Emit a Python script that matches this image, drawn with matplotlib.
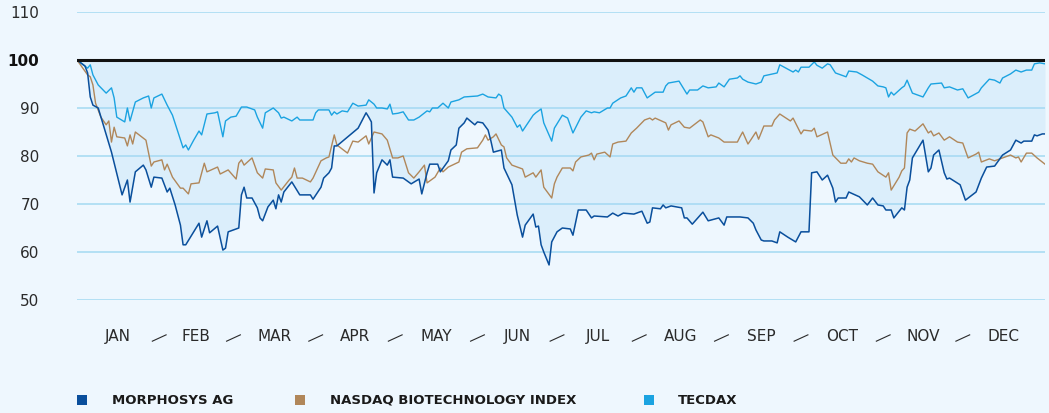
import matplotlib.pyplot as plt
from matplotlib.patches import Rectangle
from matplotlib.transforms import blended_transform_factory
import numpy as np

plt.rcParams['font.family'] = ['DejaVu Sans']

W, H = 1049, 413

# day of year / indexed value (start = 100)
morph_day = [0, 3, 4, 5, 6, 8, 13, 17, 19, 20, 22, 25, 26, 28, 29, 32, 34, 35, 37, 39, 40, 41,
             46, 47, 49, 50, 53, 55, 56, 57, 61, 62, 63, 64, 66, 68, 69, 70, 72, 74, 75, 76, 77,
             78, 81, 84, 88, 89, 92, 93, 95, 96, 97, 98, 106, 109, 110, 111, 112, 113, 115, 117,
             118, 119, 123, 124, 126, 129, 130, 132, 133, 136, 137, 140, 141, 143, 144, 146, 147,
             150, 151, 153, 155, 156, 157, 160, 161, 164, 166, 168, 169, 172, 173, 174, 175, 176,
             178, 179, 181, 183, 186, 187, 189, 192, 194, 195, 200, 202, 204, 206, 210, 213, 215,
             216, 217, 220, 221, 222, 224, 228, 229, 230, 232, 236, 238, 242, 244, 245, 250, 253,
             255, 256, 258, 259, 262, 264, 265, 268, 271, 273, 276, 277, 279, 281, 283, 285, 286,
             287, 290, 291, 295, 298, 300, 302, 304, 305, 307, 308, 311, 312, 313, 314, 315, 319,
             321, 322, 323, 325, 327, 328, 329, 333, 335, 339, 341, 343, 346, 349, 352, 354, 356,
             357, 360, 361, 362, 364, 365]
morph_val = [100, 98.75, 97.3, 92.3, 90.6, 90, 80.8, 71.9, 75, 70.4, 76.7, 78.1, 77.1, 73.5, 75.6,
             75.4, 72.5, 73.3, 69.8, 65.6, 61.5, 61.5, 66, 63.1, 66.5, 64, 65.4, 60.4, 60.8, 64.2,
             65, 71.9, 73.5, 71.25, 71.25, 69.2, 67.1, 66.5, 69.4, 70.8, 69, 71.9, 70.4, 72.5,
             74.6, 71.9, 71.9, 71, 73.5, 75.4, 76.5, 77.5, 82.1, 82.1, 85.8, 89, 88.1, 87.1, 72.3,
             76.5, 79.2, 78.1, 79.2, 75.6, 75.4, 75, 74.2, 75.2, 72.1, 76.5, 78.3, 78.3, 76.7, 79,
             81.25, 82.3, 85.8, 86.9, 87.9, 86.5, 87.1, 86.9, 85.4, 83.3, 80.8, 81.25, 77.5, 74,
             67.7, 63.1, 65.6, 67.9, 65.2, 65.4, 61.5, 60, 57.3, 62.1, 64.2, 65, 64.8, 63.5, 68.75,
             68.75, 67.1, 67.5, 67.3, 68.1, 67.5, 68.1, 67.9, 68.5, 66, 66.25, 69.2, 69, 69.8, 69.2,
             69.6, 69.2, 67.1, 67.1, 65.8, 68.3, 66.5, 67.1, 65.6, 67.3, 67.3, 67.1, 66, 64.6, 62.5,
             62.3, 62.3, 61.9, 64.2, 63.1, 62.1, 64.2, 64.2, 76.5, 76.7, 75, 76, 73.3, 70.4, 71.25,
             71.25, 72.5, 71.5, 69.8, 71.25, 69.8, 69.6, 68.75, 68.75, 67.1, 69.2, 68.75, 73.5, 75,
             79.6, 83.3, 76.7, 77.5, 80.2, 81.25, 76.5, 75.2, 75.4, 74, 70.8, 72.5, 75.4, 77.7,
             77.9, 80.2, 81.25, 83.3, 82.7, 83.1, 83.1, 84.4, 84.2, 84.6, 84.6]

nasdaq_day = [0, 4, 5, 6, 7, 9, 11, 12, 13, 14, 15, 18, 19, 20, 21, 22, 26, 27, 28, 29, 32, 33,
              34, 36, 39, 40, 42, 43, 46, 48, 49, 53, 54, 57, 60, 61, 62, 63, 66, 68, 70, 71, 74,
              75, 77, 80, 81, 82, 83, 85, 88, 89, 92, 94, 95, 97, 98, 102, 104, 106, 109, 110, 112,
              115, 117, 119, 121, 123, 125, 127, 129, 131, 132, 135, 137, 138, 140, 144, 145, 147,
              151, 153, 154, 155, 157, 158, 160, 161, 162, 164, 168, 169, 172, 173, 175, 176, 179,
              180, 181, 183, 186, 187, 188, 190, 193, 194, 195, 196, 199, 201, 202, 204, 207, 209,
              211, 214, 216, 217, 218, 222, 223, 224, 227, 229, 231, 235, 236, 238, 239, 242, 244,
              249, 250, 251, 253, 254, 256, 257, 259, 262, 263, 265, 269, 270, 273, 274, 277, 278,
              279, 283, 285, 288, 290, 291, 292, 293, 295, 298, 300, 302, 305, 306, 307, 310, 311,
              312, 313, 314, 316, 319, 321, 322, 323, 325, 327, 329, 332, 334, 336, 339, 340, 341,
              344, 346, 349, 352, 354, 355, 356, 358, 360, 362, 365]
nasdaq_val = [100, 96.9, 96.5, 94.8, 91, 88.1, 86.5, 87.3, 82.9, 86, 84, 83.75, 82.1, 84.4, 82.5,
              85, 83.3, 80.6, 77.9, 78.75, 79.2, 77.1, 78.3, 75.6, 73.3, 73.3, 72.1, 74.2, 74.4,
              78.5, 76.7, 77.7, 76.25, 77.1, 75.2, 78.5, 79.2, 78.1, 79.6, 76.5, 75.4, 77.3, 77.1,
              74.4, 72.9, 75, 75.6, 77.5, 75.4, 75.4, 74.6, 75.4, 79, 79.6, 79.8, 84.4, 82.3, 80.6,
              83.1, 82.9, 84.2, 82.5, 85, 84.6, 83.3, 79.6, 79.6, 80, 76.5, 75.4, 76.7, 78.1, 74.4,
              75.6, 77.5, 76.7, 77.7, 78.75, 80.8, 81.5, 81.7, 83.3, 84.4, 83.3, 84, 84.6, 82.3,
              81.9, 79.6, 78.1, 77.3, 75.6, 76.5, 75.6, 77.1, 73.5, 71.25, 74.2, 75.6, 77.5, 77.5,
              76.9, 78.75, 79.8, 80.2, 80.6, 79.2, 80.4, 80.8, 79.8, 82.5, 82.9, 83.1, 84.8, 85.8,
              87.5, 87.9, 87.5, 87.9, 86.9, 85.4, 86.5, 87.3, 86, 85.8, 87.5, 87.1, 84, 84.4, 83.75,
              82.9, 82.9, 84, 85, 82.5, 83.3, 85, 83.5, 86.25, 86.25, 87.5, 88.75, 87.3, 87.9, 84.6,
              85.4, 85.2, 85.8, 84, 85, 80.2, 78.5, 78.5, 79.4, 78.75, 79.6, 79, 78.5, 78.3, 76.7,
              75.6, 76.5, 72.9, 75.6, 76.9, 77.5, 84.8, 85.6, 85.2, 86.7, 84.8, 85.2, 84.2, 84.8,
              83.3, 84, 82.9, 82.7, 79.6, 80.4, 80.8, 78.75, 79.4, 79, 79.6, 80.2, 79.6, 79.8,
              78.75, 80.6, 80.6, 79.6, 78.3]

tecdax_day = [0, 4, 5, 6, 8, 11, 13, 14, 15, 18, 19, 20, 22, 25, 27, 28, 29, 32, 34, 36, 40, 41,
              42, 44, 46, 47, 49, 52, 53, 55, 56, 58, 60, 62, 64, 67, 68, 70, 71, 74, 76, 77, 78,
              81, 83, 84, 89, 90, 91, 95, 96, 97, 98, 100, 102, 104, 106, 109, 110, 112, 113, 115,
              117, 118, 119, 121, 123, 125, 127, 129, 132, 133, 134, 136, 138, 140, 141, 144, 146,
              151, 153, 155, 158, 159, 160, 161, 164, 166, 167, 168, 172, 173, 175, 176, 179, 180,
              183, 185, 187, 190, 192, 194, 195, 197, 200, 201, 202, 205, 207, 209, 210, 211, 213,
              215, 218, 221, 222, 223, 227, 230, 231, 234, 236, 238, 241, 242, 244, 245, 246, 249,
              250, 251, 253, 256, 258, 259, 264, 265, 270, 271, 272, 273, 276, 278, 279, 281, 283,
              284, 286, 287, 290, 291, 294, 296, 300, 302, 304, 305, 306, 307, 308, 311, 312, 313,
              315, 319, 321, 322, 326, 327, 329, 332, 334, 336, 340, 341, 344, 346, 348, 349, 352,
              354, 356, 358, 360, 361, 363, 365]
tecdax_val = [100, 98.3, 99, 96.9, 94.8, 93.1, 94.2, 92.1, 88.1, 87.1, 90, 87.3, 91.25, 92.1, 92.5,
              90, 92.1, 92.9, 90.6, 88.5, 81.7, 82.3, 81.25, 83.3, 85.2, 84.4, 88.75, 89, 89.2, 84,
              87.3, 88.1, 88.3, 90.2, 90.2, 89.6, 88.1, 85.8, 89, 90, 89, 87.9, 88.1, 87.3, 88.1,
              87.5, 87.5, 89, 89.6, 89.6, 88.5, 89.2, 88.75, 89.4, 89.2, 91, 90.4, 90.6, 91.7, 90.8,
              90, 90, 89.8, 90.8, 88.75, 88.9, 89.2, 87.5, 87.5, 88.1, 89.4, 89.2, 90, 90, 91, 90,
              91.25, 91.7, 92.3, 92.5, 92.9, 92.3, 92.1, 92.9, 92.5, 90, 88.1, 86, 86.5, 85.2, 88.5,
              89, 89.8, 86.9, 83.1, 85.8, 88.5, 87.9, 84.8, 88.1, 89.4, 89, 89.2, 89, 90, 90, 91,
              92.1, 92.5, 94.2, 93.3, 94.2, 94.2, 92.1, 93.3, 93.3, 94.6, 95.2, 95.6, 92.9, 93.75,
              93.75, 94.6, 94.2, 94.4, 95.2, 94.4, 95.2, 96, 96.25, 96.7, 96, 95.4, 95, 95.4, 96.7,
              97.3, 99, 97.5, 97.9, 97.5, 98.5, 98.5, 99.6, 98.9, 98.3, 99.2, 99, 97.3, 97.1, 96.5,
              97.7, 97.5, 96.9, 95.6, 94.6, 94.4, 94.2, 92.3, 93.3, 92.7, 94.2, 94.6, 95.8, 93.1,
              92.3, 94.2, 95, 95.2, 94.2, 94.4, 93.75, 94, 92.1, 93.3, 94.2, 96, 95.8, 95.2, 96.25,
              97.1, 97.9, 97.5, 97.9, 97.9, 99.2, 99.4, 99.2]

months = ['JAN', 'FEB', 'MAR', 'APR', 'MAY', 'JUN', 'JUL', 'AUG', 'SEP', 'OCT', 'NOV', 'DEC']
month_len = [31, 28, 31, 30, 31, 30, 31, 31, 30, 31, 30, 31]
yticks = [50, 60, 70, 80, 90, 100, 110]

names = ['MORPHOSYS AG', 'NASDAQ BIOTECHNOLOGY INDEX', 'TECDAX']
colors = ['#0a4f9c', '#b0875a', '#1ba3e1']

bg = '#eef7fe'
fig = plt.figure(figsize=(W / 100, H / 100), dpi=100, facecolor=bg)
ax = fig.add_axes([77 / W, 1 - 300 / H, 968 / W, 288 / H])
ax.set_facecolor(bg)

ax.fill_between(morph_day, morph_val, 100, color='#dbeefb', lw=0, zorder=1)
for y in yticks:
    if y != 100:
        ax.axhline(y, color='#a3d9f2', lw=1.1, zorder=2)
ax.axhline(100, color='#111111', lw=2.2, zorder=5)

ax.plot(tecdax_day, tecdax_val, color=colors[2], lw=1.0, zorder=3)
ax.plot(nasdaq_day, nasdaq_val, color=colors[1], lw=1.0, zorder=3)
ax.plot(morph_day, morph_val, color=colors[0], lw=1.1, zorder=4)

ax.set_xlim(0, 365)
ax.set_ylim(50, 110)
for s in ax.spines.values():
    s.set_visible(False)
ax.set_xticks([])
ax.set_yticks(yticks)
ax.set_yticklabels([str(v) for v in yticks], fontsize=11, color='#2a2a2a')
ax.tick_params(axis='y', length=0, pad=27)
for lab, v in zip(ax.get_yticklabels(), yticks):
    if v == 100:
        lab.set_fontweight('bold')
        lab.set_color('#111111')

# month labels with slanted separators
tr = blended_transform_factory(ax.transData, ax.transAxes)
edges = np.cumsum([0] + month_len)
for i, m in enumerate(months):
    mid = (edges[i] + edges[i + 1]) / 2
    ax.text(mid, -0.128, m, transform=tr, ha='center', va='center',
            fontsize=11, color='#2a2a2a')
    if i > 0:
        b = edges[i]
        ax.plot([b - 2.6, b + 2.6], [-0.143, -0.121], transform=tr,
                color='#2a2a2a', lw=0.8, clip_on=False)

# legend
sq_x = [77, 295, 644]
txt_x = [112, 330, 678]
for name, c, sx, tx in zip(names, colors, sq_x, txt_x):
    fig.add_artist(Rectangle((sx / W, 1 - 405 / H), 10 / W, 10 / H,
                             transform=fig.transFigure, color=c, lw=0))
    fig.text(tx / W, 1 - 400 / H, name, fontsize=9.5, fontweight='bold',
             color='#1a1a1a', va='center', ha='left')

fig.savefig('out.png', dpi=100, facecolor=bg)
